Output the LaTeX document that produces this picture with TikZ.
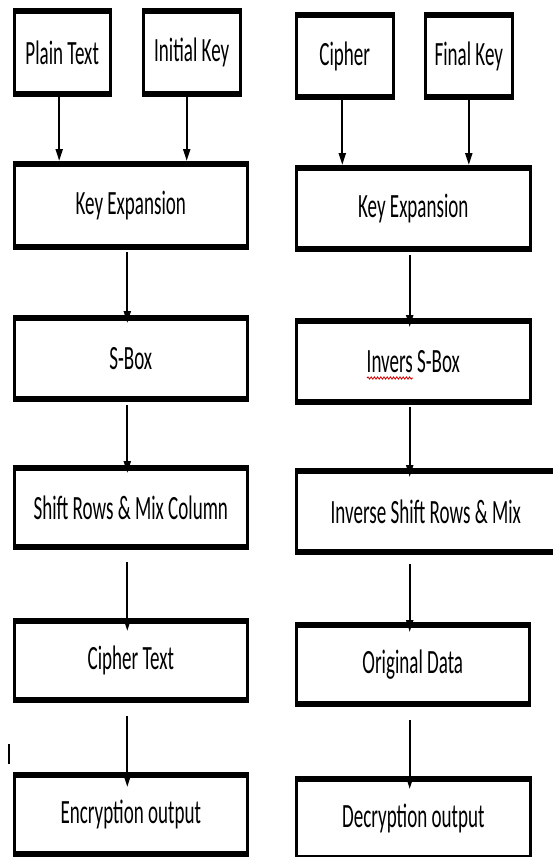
\documentclass[tikz,border=0pt]{standalone}
\usepackage{fontspec}
\newfontfamily\calfont[FakeStretch=0.56]{Carlito}
\usetikzlibrary{arrows.meta,decorations.pathmorphing}
\begin{document}
\begin{tikzpicture}[x=1pt,y=-1pt,
  fbox/.style={draw=black, line width=3pt, fill=white, inner sep=0pt,
    font=\calfont\fontsize{34}{36}\selectfont,
    path picture={
      \fill[black] (path picture bounding box.north west) rectangle ([yshift=-4.5pt]path picture bounding box.north east);
      \fill[black] (path picture bounding box.south west) rectangle ([yshift=4.5pt]path picture bounding box.south east);
    }},
  arr/.style={line width=2pt, -{Triangle[width=7pt,length=12pt]}}]
\useasboundingbox (0,0) rectangle (553,857);
\clip (0,0) rectangle (553,857);
% left column
\node[fbox, minimum width=96pt, minimum height=85.7pt] (pt) at (62.2,52.6) {Plain Text};
\node[fbox, minimum width=97pt, minimum height=85.7pt] (ik) at (191.7,52.6) {Initial Key};
\node[fbox, minimum width=233.3pt, minimum height=86pt] (ke1) at (130.8,205.5) {Key Expansion};
\node[fbox, minimum width=233.3pt, minimum height=84pt] (sb) at (130.8,358.5) {S-Box};
\node[fbox, minimum width=233.3pt, minimum height=82pt] (sr) at (130.8,507.5) {Shift Rows \& Mix Column};
\node[fbox, minimum width=233.3pt, minimum height=82pt] (ct) at (130.8,660.5) {Cipher Text};
\node[fbox, minimum width=233.3pt, minimum height=82pt] (eo) at (130.8,814.5) {Encryption output};
% right column
\node[fbox, minimum width=97pt, minimum height=85pt] (ci) at (344.7,56) {Cipher};
\node[fbox, minimum width=86.7pt, minimum height=85pt] (fk) at (468.8,56) {Final Key};
\node[fbox, minimum width=234.3pt, minimum height=84pt] (ke2) at (413.3,208.5) {Key Expansion};
\node[fbox, minimum width=234.3pt, minimum height=84pt] (isb) at (413.3,361.5) {Invers S-Box};
\node[fbox, minimum width=259.3pt, minimum height=84pt] (isr) at (425.8,511.5) {Inverse Shift Rows \& Mix};
\node[fbox, minimum width=233.3pt, minimum height=82pt] (od) at (412.8,664.5) {Original Data};
\node[fbox, minimum width=234.3pt, minimum height=82pt] (dec) at (413.3,818.5) {Decryption output};
% spell-check underline
\draw[red!85!black, line width=0.8pt, decorate, decoration={snake, amplitude=1.1pt, segment length=3.2pt}] (367,378) -- (413,378);
% stray mark
\draw[line width=2pt] (9,744) -- (9,764);
% arrows top
\draw[arr] ([xshift=-3pt]pt.south) -- ([xshift=-3pt]pt.south |- ke1.north);
\draw[arr] ([xshift=-5pt]ik.south) -- ([xshift=-5pt]ik.south |- ke1.north);
\draw[arr] ([xshift=-2.4pt]ci.south) -- ([xshift=-2.4pt]ci.south |- ke2.north);
\draw[arr] (fk.south) -- (fk.south |- ke2.north);
% arrows left column
\draw[arr] ([xshift=-3.5pt,yshift=-2pt]ke1.south) -- ([xshift=-3.5pt,yshift=-8pt]sb.north);
\draw[arr] ([xshift=-3.5pt,yshift=-3pt]sb.south) -- ([xshift=-3.5pt,yshift=-8pt]sr.north);
\draw[arr] ([xshift=-3.5pt,yshift=-12pt]sr.south) -- ([xshift=-3.5pt,yshift=-13pt]ct.north);
\draw[arr] ([xshift=-3.5pt,yshift=-13pt]ct.south) -- ([xshift=-3.5pt,yshift=-15pt]eo.north);
% arrows right column
\draw[arr] ([xshift=-3.6pt,yshift=-3pt]ke2.south) -- ([xshift=-3.6pt,yshift=-9pt]isb.north);
\draw[arr] ([xshift=-3.6pt,yshift=-2pt]isb.south) -- ([xshift=-16.1pt,yshift=-9pt]isr.north);
\draw[arr] ([xshift=-16.1pt,yshift=-9pt]isr.south) -- ([xshift=-3.1pt,yshift=-10pt]od.north);
\draw[arr] ([xshift=-3.1pt,yshift=-13pt]od.south) -- ([xshift=-3.6pt,yshift=-13pt]dec.north);
\end{tikzpicture}
\end{document}
